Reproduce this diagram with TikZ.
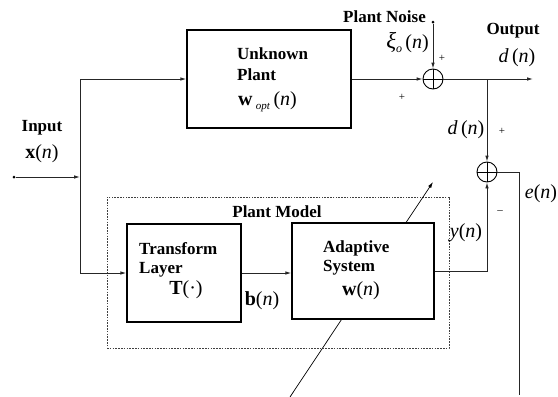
\documentclass[tikz,border=0pt]{standalone}
\usepackage{fontspec}
\setmainfont{Liberation Serif}
\usetikzlibrary{arrows.meta}
\tikzset{
  conn/.style={line width=0.9pt, draw=black!85},
  arr/.style={conn, -{Latex[length=6pt,width=3.6pt]}},
  blockbox/.style={draw, line width=1.4pt, fill=white, inner sep=0pt},
  lbl/.style={font=\fontsize{17}{18}\bfseries\selectfont, inner sep=0pt},
  mth/.style={font=\fontsize{20}{21}\selectfont, inner sep=0pt},
  sgn/.style={font=\fontsize{11}{11}\selectfont, inner sep=0pt},
  sumc/.style={circle, draw, line width=0.9pt, minimum size=20pt, inner sep=0pt, fill=white},
  dotn/.style={circle, fill=black, minimum size=3pt, inner sep=0pt},
  modelbox/.style={draw=black!75, line width=0.7pt, dash pattern=on 1.6pt off 1.2pt, inner sep=0pt},
}
\newcommand{\itn}{\textit{n}}
\begin{document}
\begin{tikzpicture}[x=1pt,y=-1pt]
\useasboundingbox (0,0) rectangle (558,397);
% plant model dashed box
\node[modelbox, minimum width=342pt, minimum height=151pt] (pm) at (278,272.5) {};
% diagonal adaptation arrow
\coordinate (dA) at (290,397);
\coordinate (dB) at (433,182);
\draw[line width=0.7pt, -{Latex[length=6pt,width=3.6pt]}] (dA) -- (dB);
% blocks
\node[blockbox, minimum width=164pt, minimum height=98pt] (plant) at (269,79) {};
\node[blockbox, minimum width=114pt, minimum height=98pt] (tl) at (184,273) {};
\node[blockbox, minimum width=142pt, minimum height=96pt] (as) at (363,271) {};
% summing junctions
\node[sumc] (s1) at (433,79) {};
\draw[line width=0.8pt] (s1.north) -- (s1.south) (s1.west) -- (s1.east);
\node[sumc] (s2) at (487,172) {};
\draw[line width=0.8pt] (s2.north) -- (s2.south) (s2.west) -- (s2.east);
% points
\node[dotn] (inDot) at (14,177) {};
\node[dotn] (noise) at (433,22) {};
\coordinate (jin) at (80,177);
\coordinate (ctop) at (80,79);
\coordinate (cbot) at (80,273);
\coordinate (outEnd) at (533,79);
\coordinate (br) at (487,79);
\coordinate (eEnd) at (519,395);
% connectors
\draw[arr] (inDot) -- (jin);
\draw[conn] (ctop) -- (cbot);
\draw[arr] (ctop) -- (plant.west);
\draw[arr] (cbot) -- (tl.west);
\draw[arr] (plant.east) -- (s1.west);
\draw[arr] (noise) -- (s1.north);
\draw[arr] (s1.east) -- (outEnd);
\draw[arr] (br) -- (s2.north);
\draw[arr] (tl.east) -- (tl.east -| as.west);
\draw[arr] (as.east) -| (s2.south);
\draw[conn] (s2.east) -| (eEnd);
% box texts
\node[lbl, anchor=west] (t1) at (237,54) {Unknown};
\node[lbl, anchor=west] (t2) at (237,75) {Plant};
\node[mth, anchor=west] (t3) at (238,102) {\textbf{w}\,\raisebox{-0.4ex}{\fontsize{11}{11}\selectfont\textit{opt}}\,(\itn)};
\node[lbl, anchor=west] (t4) at (139,249) {Transform};
\node[lbl, anchor=west] (t5) at (139,270) {Layer};
\node[mth] (t6) at (186,290) {\textbf{T}(·)};
\node[lbl, anchor=west] (t7) at (323,248) {Adaptive};
\node[lbl, anchor=west] (t8) at (323,268) {System};
\node[mth] (t9) at (361,291) {\textbf{w}(\itn)};
\node[lbl] (t10) at (277,212) {Plant Model};
\node[mth] (t11) at (262,301) {\textbf{b}(\itn)};
% outer labels
\node[lbl] (l1) at (42,128) {Input};
\node[mth] (l2) at (42,154) {\textbf{x}(\itn)};
\node[lbl, anchor=east] (l3) at (426,17) {Plant Noise};
\node[mth, anchor=east] (l4) at (429,43) {{\fontsize{23}{23}\selectfont\textit{ξ}}\raisebox{-0.4ex}{\fontsize{12}{12}\selectfont\textit{o}}\,(\itn)};
\node[sgn] (p1) at (442,58) {+};
\node[sgn] (p2) at (402,97) {+};
\node[lbl] (l5) at (513,31) {Output};
\node[mth] (l6) at (517,58) {\textit{d}\,(\itn)};
\node[mth] (l7) at (466,130) {\textit{d}\,(\itn)};
\node[sgn] (p3) at (502,131) {+};
\node[sgn] (m1) at (500,212) {–};
\node[mth] (l8) at (541,194) {\textit{e}(\itn)};
\node[mth] (l9) at (466,233) {\textit{y}(\itn)};
\end{tikzpicture}
\end{document}
